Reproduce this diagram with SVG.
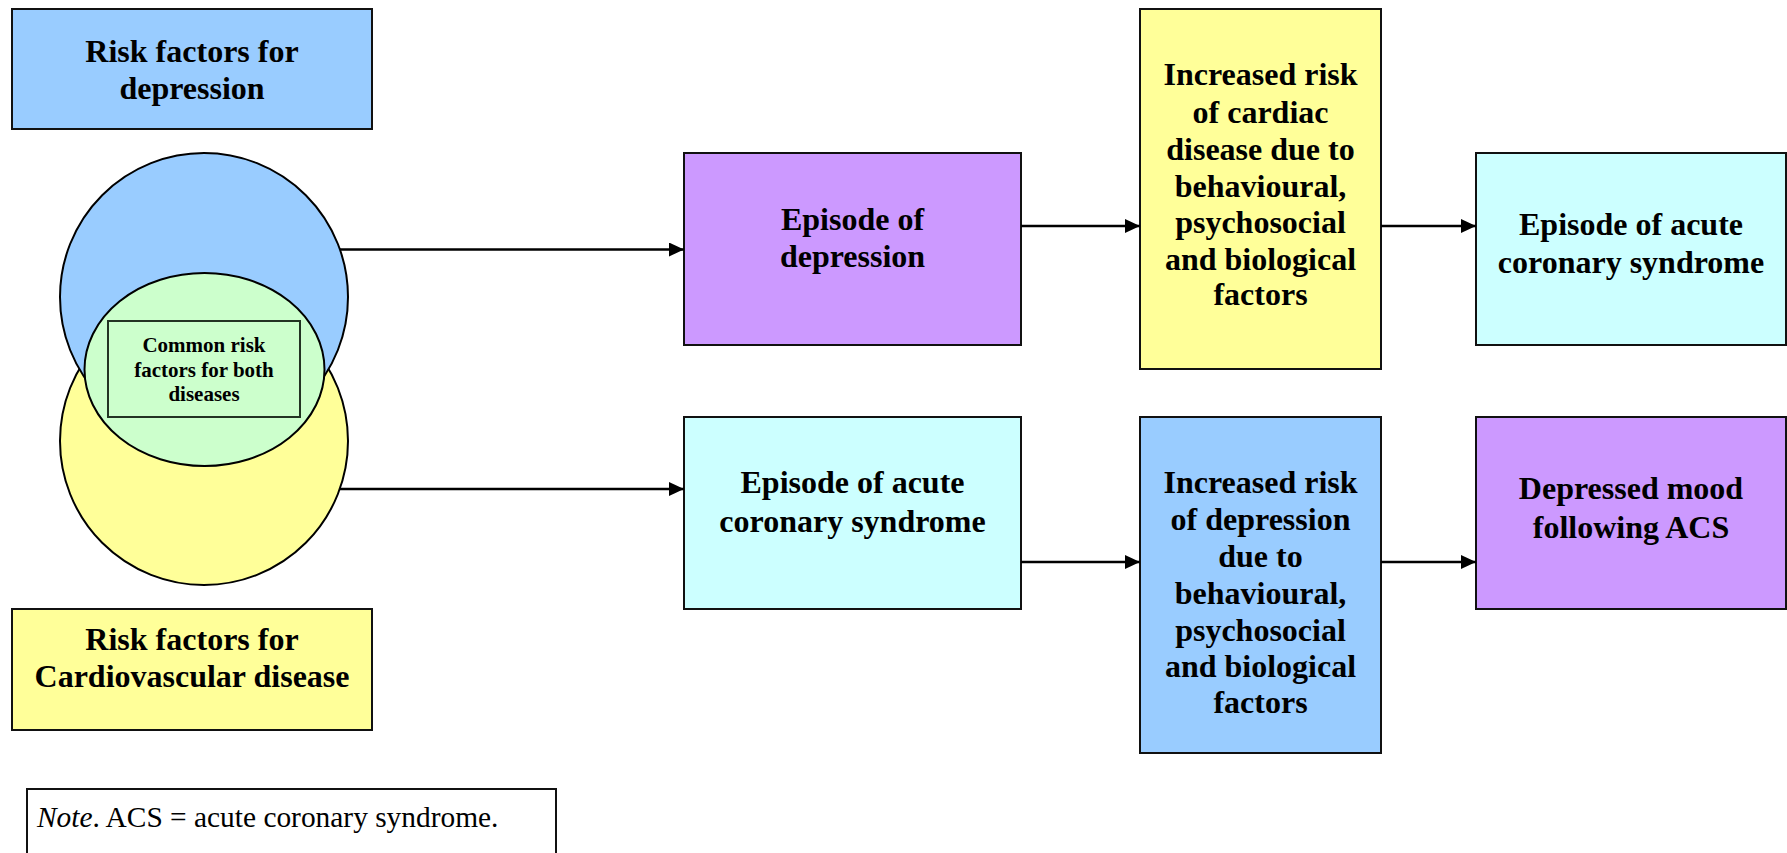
<svg xmlns="http://www.w3.org/2000/svg" width="1787" height="853" viewBox="0 0 1787 853">
  <style>
    .box { stroke: #111; stroke-width: 2; }
    .shape { stroke: #000; stroke-width: 2; }
    .blue { fill: #99CCFF; }
    .purple { fill: #CC99FF; }
    .yellow { fill: #FFFF99; }
    .cyan { fill: #CCFFFF; }
    .green { fill: #CCFFCC; }
    .lbl { font-family: "Liberation Serif", "Times New Roman", serif; font-weight: bold; font-size: 32px; fill: #000; text-anchor: middle; }
    .small { font-family: "Liberation Serif", "Times New Roman", serif; font-weight: bold; font-size: 21px; fill: #000; text-anchor: middle; }
    .note { font-family: "Liberation Serif", "Times New Roman", serif; font-size: 29.4px; fill: #000; }
    .conn { stroke: #000; stroke-width: 2.5; fill: none; marker-end: url(#arrow); }
  </style>
  <defs>
    <marker id="arrow" markerUnits="userSpaceOnUse" markerWidth="15" markerHeight="14" refX="15" refY="7" orient="auto">
      <path d="M0,0 L15,7 L0,14 z" fill="#000"/>
    </marker>
  </defs>

  <rect width="1787" height="853" fill="#fff"/>

  <g id="risk-depression">
    <rect class="box blue" x="12" y="9" width="360" height="120"/>
    <text class="lbl" x="192" y="62">Risk factors for</text>
    <text class="lbl" x="192" y="99">depression</text>
  </g>

  <!-- overlapping circles: cardiovascular (yellow), depression (blue), shared (green) -->
  <g id="venn">
    <circle class="shape yellow" cx="204" cy="441" r="144"/>
    <circle class="shape blue" cx="204" cy="297" r="144"/>
    <ellipse class="shape green" cx="204.5" cy="369.5" rx="120" ry="96.5"/>
  </g>

  <g id="common-factors">
    <rect x="108" y="321" width="192" height="96" fill="none" stroke="#223322" stroke-width="2"/>
    <text class="small" x="204" y="352">Common risk</text>
    <text class="small" x="204" y="377">factors for both</text>
    <text class="small" x="204" y="401">diseases</text>
  </g>

  <g id="risk-cvd">
    <rect class="box yellow" x="12" y="609" width="360" height="121"/>
    <text class="lbl" x="192" y="650">Risk factors for</text>
    <text class="lbl" x="192" y="687">Cardiovascular disease</text>
  </g>

  <g id="episode-depression">
    <rect class="box purple" x="684" y="153" width="337" height="192"/>
    <text class="lbl" x="852.5" y="230">Episode of</text>
    <text class="lbl" x="852.5" y="267">depression</text>
  </g>

  <g id="cardiac-risk">
    <rect class="box yellow" x="1140" y="9" width="241" height="360"/>
    <text class="lbl" x="1260.5" y="85">Increased risk</text>
    <text class="lbl" x="1260.5" y="123">of cardiac</text>
    <text class="lbl" x="1260.5" y="160">disease due to</text>
    <text class="lbl" x="1260.5" y="197">behavioural,</text>
    <text class="lbl" x="1260.5" y="233">psychosocial</text>
    <text class="lbl" x="1260.5" y="270">and biological</text>
    <text class="lbl" x="1260.5" y="305">factors</text>
  </g>

  <g id="episode-acs-top">
    <rect class="box cyan" x="1476" y="153" width="310" height="192"/>
    <text class="lbl" x="1631" y="235">Episode of acute</text>
    <text class="lbl" x="1631" y="273">coronary syndrome</text>
  </g>

  <g id="episode-acs">
    <rect class="box cyan" x="684" y="417" width="337" height="192"/>
    <text class="lbl" x="852.5" y="493">Episode of acute</text>
    <text class="lbl" x="852.5" y="532">coronary syndrome</text>
  </g>

  <g id="depression-risk">
    <rect class="box blue" x="1140" y="417" width="241" height="336"/>
    <text class="lbl" x="1260.5" y="493">Increased risk</text>
    <text class="lbl" x="1260.5" y="530">of depression</text>
    <text class="lbl" x="1260.5" y="567">due to</text>
    <text class="lbl" x="1260.5" y="604">behavioural,</text>
    <text class="lbl" x="1260.5" y="641">psychosocial</text>
    <text class="lbl" x="1260.5" y="677">and biological</text>
    <text class="lbl" x="1260.5" y="713">factors</text>
  </g>

  <g id="depressed-mood">
    <rect class="box purple" x="1476" y="417" width="310" height="192"/>
    <text class="lbl" x="1631" y="499">Depressed mood</text>
    <text class="lbl" x="1631" y="538">following ACS</text>
  </g>

  <g id="note">
    <rect x="27" y="789" width="529" height="80" fill="#fff" stroke="#111" stroke-width="2"/>
    <text class="note" x="37" y="827"><tspan font-style="italic">Note</tspan>. ACS = acute coronary syndrome.</text>
  </g>

  <g id="connectors">
    <line class="conn" x1="340" y1="249.5" x2="684" y2="249.5"/>
    <line class="conn" x1="1021" y1="226" x2="1140" y2="226"/>
    <line class="conn" x1="1381" y1="226" x2="1476" y2="226"/>
    <line class="conn" x1="340" y1="489" x2="684" y2="489"/>
    <line class="conn" x1="1021" y1="562" x2="1140" y2="562"/>
    <line class="conn" x1="1381" y1="562" x2="1476" y2="562"/>
  </g>
</svg>
